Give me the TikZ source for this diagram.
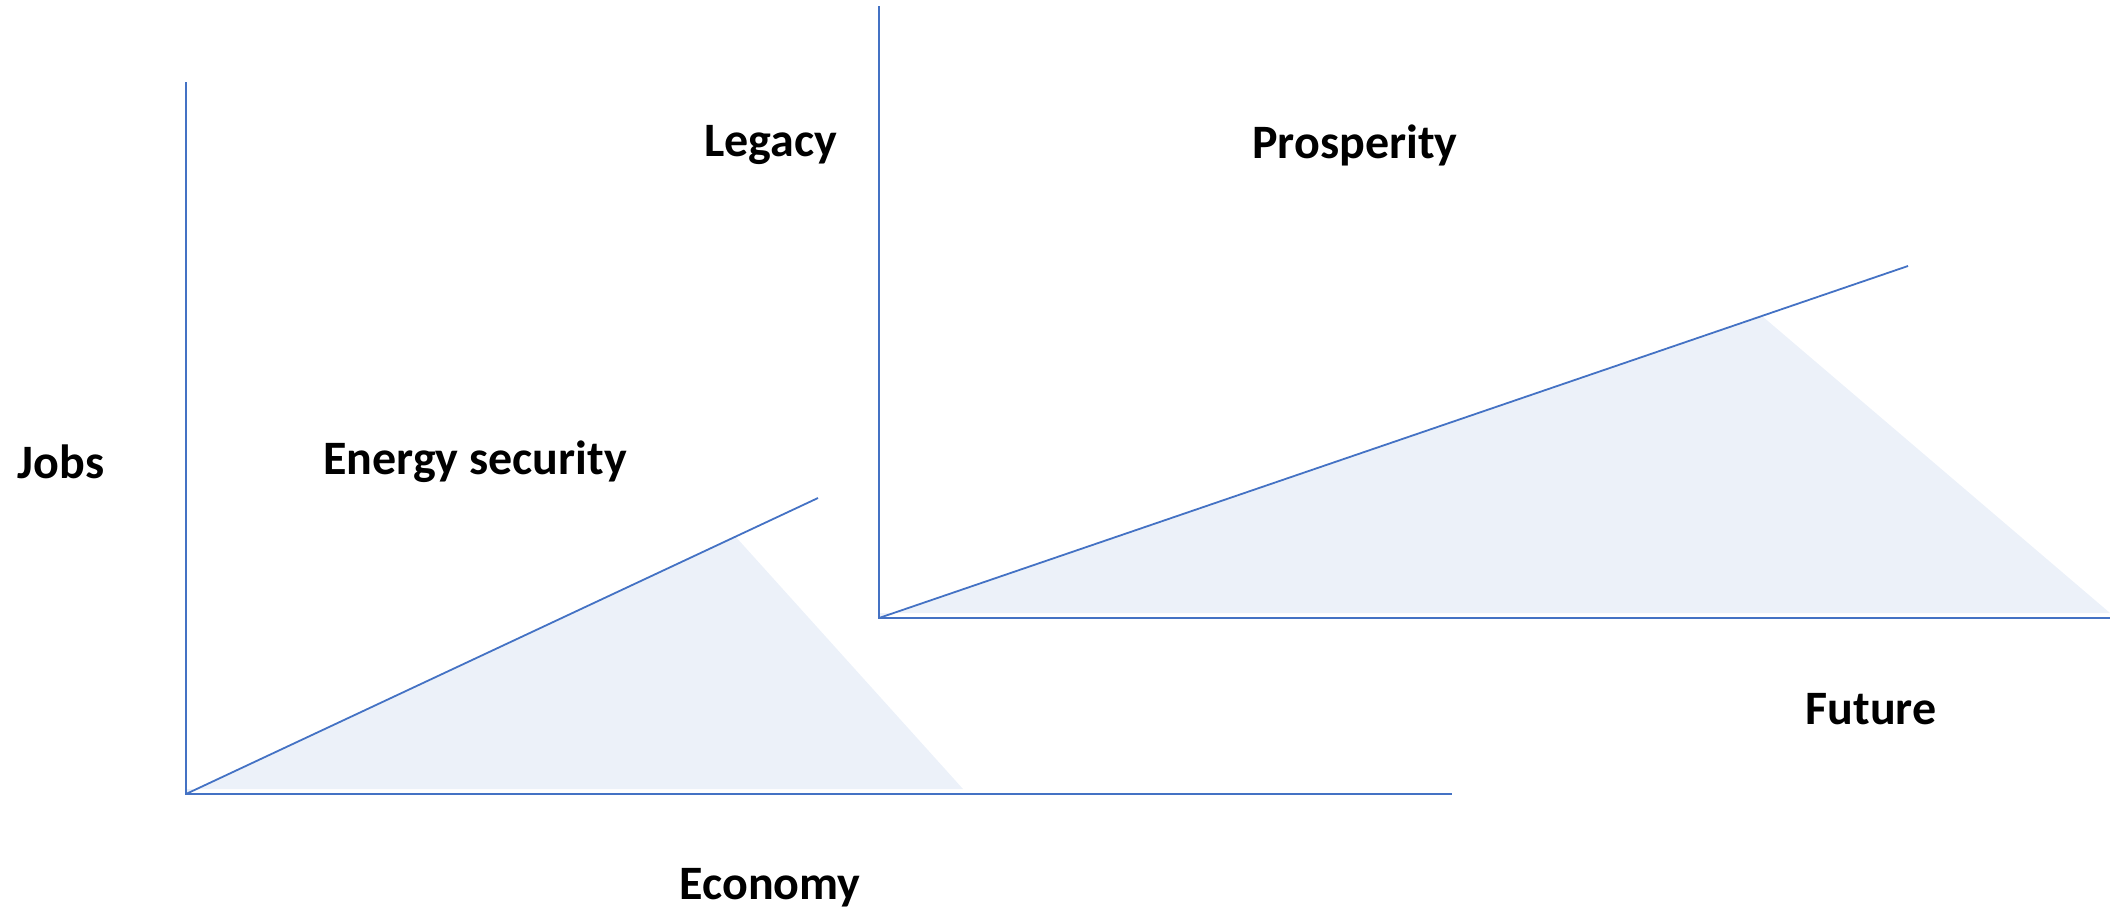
\documentclass[tikz,border=0pt]{standalone}
\usepackage{fontspec}
\setmainfont{Carlito}
\begin{document}
\begin{tikzpicture}[x=0.5pt,y=-0.5pt,
  axisline/.style={draw={rgb,255:red,68;green,114;blue,196},line width=0.9pt},
  shade/.style={fill={rgb,255:red,236;green,241;blue,249}},
  lbl/.style={font=\bfseries\fontsize{24}{29}\selectfont,text=black,inner sep=0pt}]
\useasboundingbox (0,0) rectangle (2110,910);
% left chart
\coordinate (lo) at (186,794);
\coordinate (ltop) at (186,82);
\coordinate (lright) at (1452,794);
\coordinate (ldiag) at (818,498);
\coordinate (lapex) at (735,536);
\coordinate (lbase) at (963,789);
\fill[shade] (lo) -- (lapex) -- (lbase) -- (186,789) -- cycle;
\draw[axisline] (ltop) -- (lo) -- (lright);
\draw[axisline] (lo) -- (ldiag);
% right chart
\coordinate (ro) at (879,618);
\coordinate (rtop) at (879,6);
\coordinate (rright) at (2110,618);
\coordinate (rdiag) at (1908,266);
\coordinate (rapex) at (1762,316);
\coordinate (rbase) at (2110,613);
\fill[shade] (ro) -- (rapex) -- (rbase) -- (879,613) -- cycle;
\draw[axisline] (rtop) -- (ro) -- (rright);
\draw[axisline] (ro) -- (rdiag);
% labels
\node[lbl] (jobs) at (61,462) {Jobs};
\node[lbl] (energy) at (475,462) {Energy security};
\node[lbl] (legacy) at (771,145) {Legacy};
\node[lbl] (prosperity) at (1355,145) {Prosperity};
\node[lbl] (economy) at (770,888) {Economy};
\node[lbl] (future) at (1871,709) {Future};
\end{tikzpicture}
\end{document}
